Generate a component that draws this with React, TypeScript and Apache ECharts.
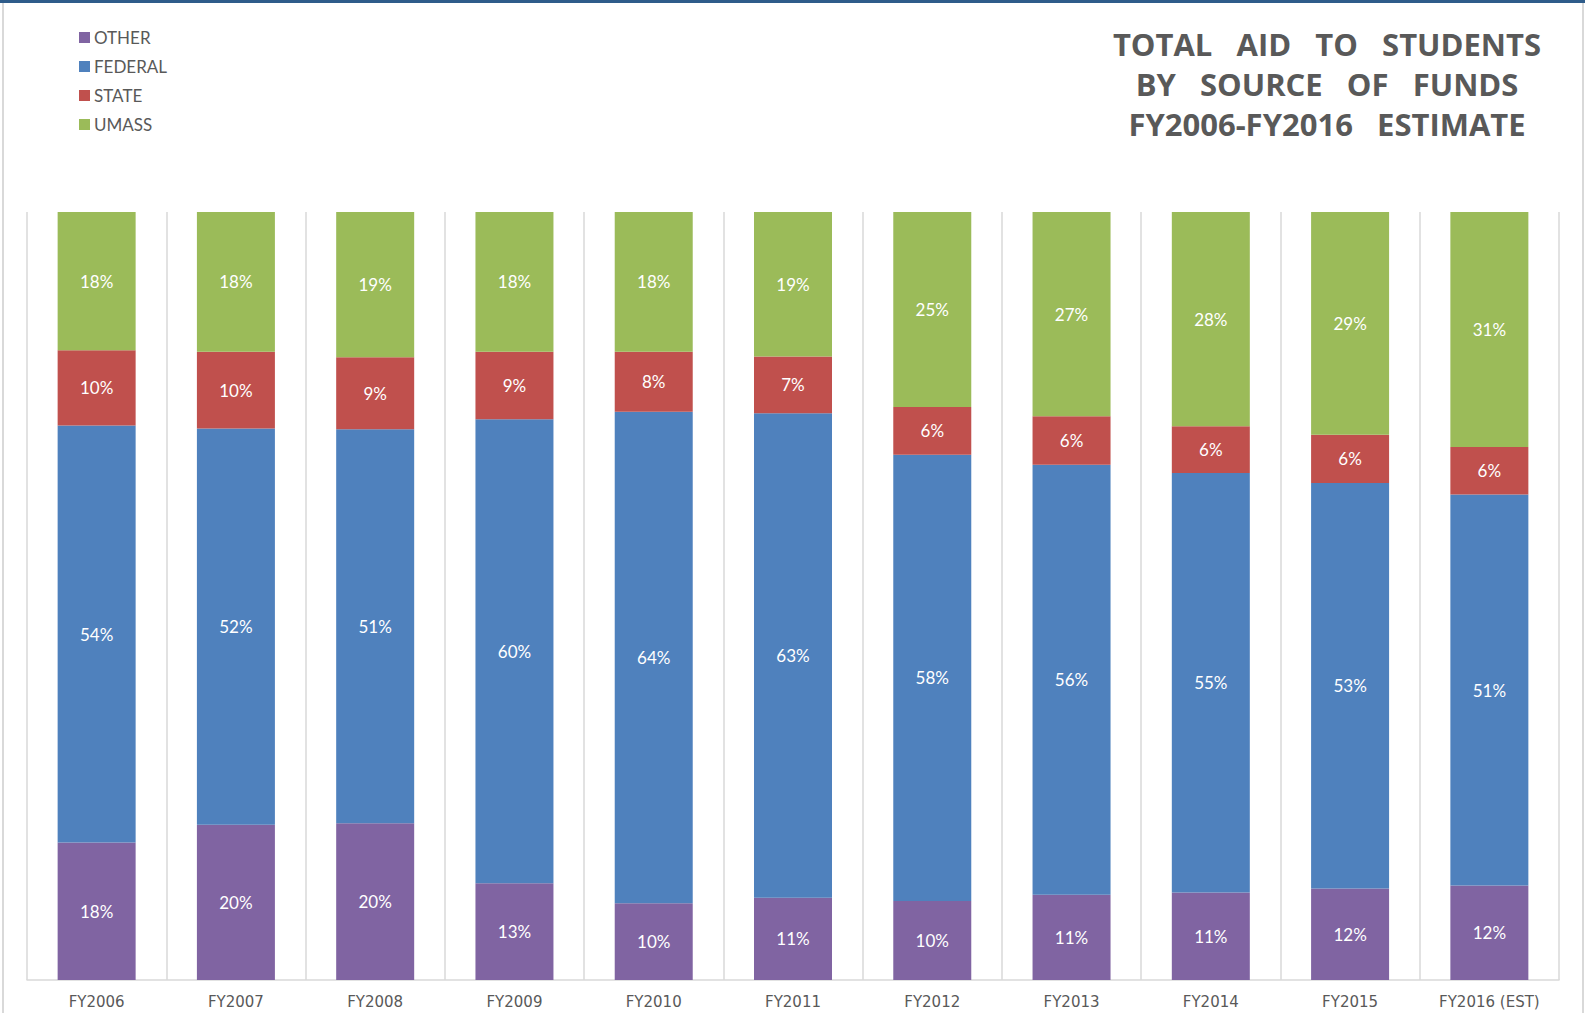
import React, { useEffect, useRef } from "react";
import * as echarts from "echarts";

const categories = ["FY2006", "FY2007", "FY2008", "FY2009", "FY2010", "FY2011", "FY2012", "FY2013", "FY2014", "FY2015", "FY2016 (EST)"];
const other = [17.9, 20.2, 20.4, 12.6, 10.0, 10.7, 10.3, 11.1, 11.4, 11.9, 12.3];
const federal = [54.3, 51.6, 51.3, 60.4, 64.0, 63.1, 58.1, 56.0, 54.6, 52.8, 50.9];
const state = [9.8, 10.0, 9.4, 8.8, 7.8, 7.4, 6.2, 6.3, 6.1, 6.3, 6.2];
const umass = [18.0, 18.2, 18.9, 18.2, 18.2, 18.8, 25.4, 26.6, 27.9, 29.0, 30.6];

const seriesDefs = [
  { name: "OTHER", data: other, color: "#8064a2" },
  { name: "FEDERAL", data: federal, color: "#4f81bd" },
  { name: "STATE", data: state, color: "#c0504d" },
  { name: "UMASS", data: umass, color: "#9bbb59" },
];

export default function App() {
  const ref = useRef<HTMLDivElement>(null);
  useEffect(() => {
    if (!ref.current) return;
    const chart = echarts.init(ref.current, null, { renderer: "svg" });
    chart.setOption({
      animation: false,
      backgroundColor: "#ffffff",
      title: {
        text: "TOTAL   AID   TO   STUDENTS\nBY   SOURCE   OF   FUNDS\nFY2006-FY2016   ESTIMATE",
        left: 1322,
        top: 19,
        textAlign: "center",
        textStyle: {
          fontFamily: "Open Sans",
          fontWeight: "bold",
          fontSize: 31,
          lineHeight: 40,
          color: "#595959",
          align: "center",
        },
      },
      legend: {
        orient: "vertical",
        left: 74,
        top: 24,
        itemWidth: 11,
        itemHeight: 11,
        itemGap: 12,
        icon: "rect",
        data: seriesDefs.map((s) => s.name),
        textStyle: { fontFamily: "Lato", fontSize: 17, color: "#595959", padding: [0, 0, 0, -1] },
      },
      grid: { left: 27, right: 26, top: 212, bottom: 33 },
      xAxis: {
        type: "category",
        data: categories,
        axisLine: { show: true, lineStyle: { color: "#d9d9d9", width: 1.5 } },
        axisTick: { show: false },
        splitLine: { show: true, lineStyle: { color: "#d9d9d9", width: 1.5 } },
        axisLabel: { fontFamily: "DejaVu Sans", fontSize: 15, color: "#595959", margin: 14 },
      },
      yAxis: {
        type: "value",
        min: 0,
        max: 100,
        show: false,
        splitLine: { show: false },
      },
      series: seriesDefs.map((s) => ({
        name: s.name,
        type: "bar",
        stack: "total",
        barWidth: 78,
        data: s.data,
        itemStyle: { color: s.color },
        label: {
          show: true,
          position: "inside",
          color: "#ffffff",
          fontFamily: "Lato",
          fontSize: 17,
          formatter: (p: any) => Math.round(p.value) + "%",
        },
      })),
      graphic: [
        { type: "line", shape: { x1: 0, y1: 1.5, x2: 1585, y2: 1.5 }, style: { stroke: "#2e5c8a", lineWidth: 3 } },
        { type: "line", shape: { x1: 3, y1: 3, x2: 3, y2: 1013 }, style: { stroke: "#d9d9d9", lineWidth: 2 } },
        { type: "line", shape: { x1: 1583, y1: 3, x2: 1583, y2: 1013 }, style: { stroke: "#d9d9d9", lineWidth: 2 } },
      ],
    });
    return () => chart.dispose();
  }, []);
  return <div ref={ref} style={{ position: "absolute", left: 0, top: 0, width: 1585, height: 1013 }} />;
}
